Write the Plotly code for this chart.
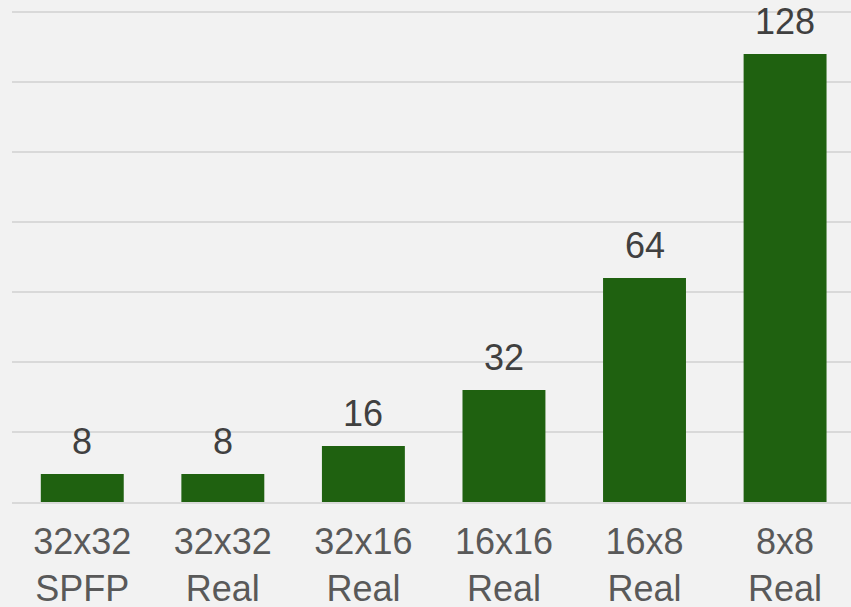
import plotly.graph_objects as go

categories = ["32x32<br>SPFP", "32x32<br>Real", "32x16<br>Real", "16x16<br>Real", "16x8<br>Real", "8x8<br>Real"]
values = [8, 8, 16, 32, 64, 128]
labels = ["8", "8", "16", "32", "64", "128"]

fig = go.Figure()
fig.add_trace(go.Bar(x=list(range(len(categories))), y=values,
                     marker=dict(color="#1F6110", line=dict(width=0)), width=0.59))

for i, (v, t) in enumerate(zip(values, labels)):
    fig.add_annotation(x=i, y=v, text=t, showarrow=False, yanchor="bottom", yshift=10,
                       font=dict(family="Liberation Sans, Arial", size=36, color="#404040"))

fig.update_layout(
    width=851, height=607,
    margin=dict(l=12, r=0, t=11, b=105),
    paper_bgcolor="#F2F2F2", plot_bgcolor="#F2F2F2",
    showlegend=False,
)
fig.update_xaxes(range=[-0.5, 5.469], tickmode="array", tickvals=list(range(len(categories))),
                 ticktext=categories, automargin=False,
                 showgrid=False, showline=True, linecolor="#D9D9D9", linewidth=2,
                 tickfont=dict(family="Liberation Sans, Arial", size=36, color="#595959"),
                 ticks="", ticklabelstandoff=7)
fig.update_yaxes(range=[0, 140.3], tickvals=[0, 20, 40, 60, 80, 100, 120, 140], showgrid=True,
                 automargin=False,
                 gridcolor="#D9D9D9", gridwidth=2, showticklabels=False, zeroline=False)
fig.write_html("out.html")
